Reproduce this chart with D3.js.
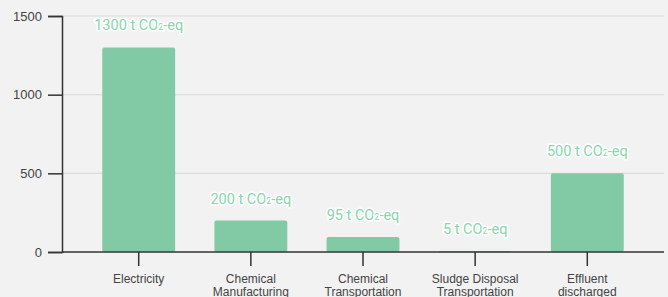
<!DOCTYPE html>
<meta charset="utf-8">
<style>
body,html{ margin:0; padding:0; background:#f2f2f2; }
svg{ display:block; }
.axis text{ font-family:"Liberation Sans", Arial, sans-serif; fill:#444; }
.val{ font-family:Roboto, sans-serif; font-size:14.5px; fill:#86d6ae; stroke:#fff; stroke-width:3px; paint-order:stroke; stroke-linejoin:round; }
</style>
<svg width="668" height="297"></svg>
<script src="https://d3js.org/d3.v7.min.js"></script>
<script>
var categories = ["Electricity", "Chemical Manufacturing", "Chemical Transportation", "Sludge Disposal Transportation", "Effluent discharged"];
var catLines = [["Electricity"], ["Chemical", "Manufacturing"], ["Chemical", "Transportation"], ["Sludge Disposal", "Transportation"], ["Effluent", "discharged"]];
var values = [1300, 200, 95, 5, 500];
var yTicks = [0, 500, 1000, 1500];

var svg = d3.select("svg");
var mLeft = 62, mRight = 663, mTop = 16, mBottom = 252;

var x = d3.scaleBand().domain(categories).range([mLeft + 1, mRight]).paddingInner(0.35).paddingOuter(0.35);
var y = d3.scaleLinear().domain([0, 1500]).range([mBottom, mTop]);

// grid
svg.append("g").selectAll("line").data(yTicks.slice(1)).enter().append("line")
  .attr("x1", mLeft).attr("x2", 664)
  .attr("y1", d => y(d)).attr("y2", d => y(d))
  .attr("stroke", "#dcdcdc").attr("stroke-width", 1.2);

// bars
svg.append("g").selectAll("rect").data(values).enter().append("rect")
  .attr("x", (d, i) => x(categories[i]))
  .attr("width", x.bandwidth())
  .attr("y", d => y(d))
  .attr("height", d => Math.max(mBottom - y(d), 1))
  .attr("rx", 2)
  .attr("fill", "#82caa6");

// value labels
svg.append("g").selectAll("text").data(values).enter().append("text")
  .attr("class", "val")
  .attr("x", (d, i) => x(categories[i]) + x.bandwidth() / 2)
  .attr("y", d => y(d) - 17)
  .attr("text-anchor", "middle")
  .html(d => d + " t CO<tspan font-size='9px'>2</tspan>-eq");

// y axis
var ya = svg.append("g").attr("class", "axis").attr("transform", "translate(" + mLeft + ",0)")
  .call(d3.axisLeft(y).tickValues(yTicks).tickFormat(d3.format("d")).tickSize(14).tickPadding(6));
ya.selectAll("text").style("font-size", "13px");
ya.selectAll("line, path").attr("stroke", "#333").attr("stroke-width", 1.5);

// x axis
var xa = svg.append("g").attr("class", "axis").attr("transform", "translate(0," + mBottom + ")")
  .call(d3.axisBottom(x).tickSize(14).tickSizeOuter(0));
xa.select("path").attr("d", "M" + mLeft + ",0H664");
xa.selectAll("line, path").attr("stroke", "#333").attr("stroke-width", 1.5);
xa.selectAll("text").remove();
xa.selectAll(".tick").append("text")
  .attr("fill", "#444").style("font-size", "12px").attr("text-anchor", "middle")
  .attr("y", 31)
  .each(function(d, i) {
    var t = d3.select(this);
    catLines[i].forEach(function(s, j) {
      t.append("tspan").attr("x", 0).attr("dy", j ? 13 : 0).text(s);
    });
  });
</script>
